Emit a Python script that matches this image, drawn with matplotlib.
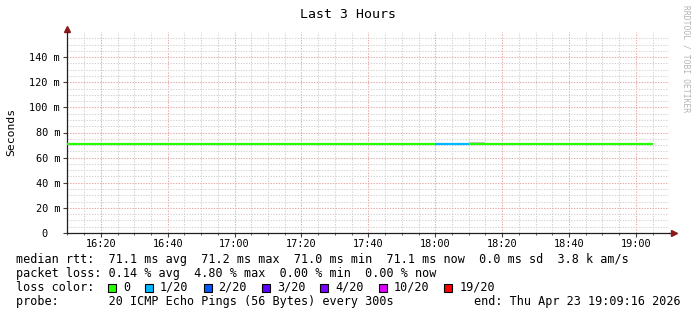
import matplotlib
matplotlib.use("Agg")
import matplotlib.pyplot as plt
from matplotlib.patches import Rectangle
from matplotlib.ticker import FixedLocator, MultipleLocator, FuncFormatter

# time axis: minutes after 16:00, window of the last 3 hours
x_start, x_end = 9.9, 189.9

# 5 minute steps: interval start, median rtt (ms), lost pings out of 20
step_start = [5, 10, 15, 20, 25, 30, 35, 40, 45, 50, 55, 60,
              65, 70, 75, 80, 85, 90, 95, 100, 105, 110, 115, 120,
              125, 130, 135, 140, 145, 150, 155, 160, 165, 170, 175, 180]
median_rtt = [71.1, 71.1, 71.1, 71.1, 71.1, 71.1, 71.1, 71.1, 71.1, 71.1, 71.1, 71.2,
              71.1, 71.1, 71.1, 71.1, 71.1, 71.1, 71.1, 71.1, 71.1, 71.1, 71.1, 71.1,
              71.1, 71.1, 71.1, 71.1, 71.0, 71.1, 71.1, 71.1, 71.1, 71.1, 71.1, 71.1]
lost = [0, 0, 0, 0, 0, 0, 0, 0, 0, 0, 0, 0,
        0, 0, 0, 0, 0, 0, 0, 0, 0, 0, 0, 1,
        1, 0, 0, 0, 0, 0, 0, 0, 0, 0, 0, 0]

# smoke (spread of the single pings) where it shows above the median line
smoke_start = [130]
smoke_lo = [71.0]
smoke_hi = [72.6]

y_labels = [0, 20, 40, 60, 80, 100, 120, 140]

loss_levels = [0, 1, 2, 3, 4, 10, 19]
loss_labels = ["0", "1/20", "2/20", "3/20", "4/20", "10/20", "19/20"]
loss_colors = ["#26ff00", "#00b8ff", "#0059ff", "#5e00ff", "#7e00ff", "#dd00ff", "#ff0000"]

stats_rtt = "median rtt:  71.1 ms avg  71.2 ms max  71.0 ms min  71.1 ms now  0.0 ms sd  3.8 k am/s"
stats_loss = "packet loss: 0.14 % avg  4.80 % max  0.00 % min  0.00 % now"
probe_text = "probe:       20 ICMP Echo Pings (56 Bytes) every 300s"
end_text = "end: Thu Apr 23 19:09:16 2026"

MONO = "DejaVu Sans Mono"
W, H = 697, 315


def loss_color(n):
    col = loss_colors[0]
    for lvl, c in zip(loss_levels, loss_colors):
        if n >= lvl:
            col = c
    return col


def fx(px):
    return px / W


def fy(py):
    return 1 - py / H


fig = plt.figure(figsize=(W / 100, H / 100), dpi=100)
fig.patch.set_facecolor("white")
ax = fig.add_axes([fx(67), fy(233), (669 - 67) / W, (233 - 32) / H])

for t, lo, hi in zip(smoke_start, smoke_lo, smoke_hi):
    ax.fill_between([t, t + 5], lo, hi, color="#c8c8c8", lw=0, zorder=2)

for t, m, n in zip(step_start, median_rtt, lost):
    ax.hlines(m, t, t + 5, colors=loss_color(n), lw=1.6, zorder=3)

ax.set_xlim(x_start, x_end)
ax.set_ylim(0, 160)

ax.xaxis.set_major_locator(MultipleLocator(20))
ax.xaxis.set_minor_locator(MultipleLocator(5))
ax.yaxis.set_major_locator(FixedLocator(y_labels))
ax.yaxis.set_minor_locator(FixedLocator([v + d for v in y_labels for d in (5, 10, 15)]))
ax.xaxis.set_major_formatter(FuncFormatter(lambda v, p: f"{16 + int(v) // 60}:{int(v) % 60:02d}"))
ax.yaxis.set_major_formatter(FuncFormatter(lambda v, p: "0  " if v == 0 else f"{v:.0f} m"))

ax.grid(which="minor", color="#d4d4d4", ls=(0, (1.3, 1.3)), lw=0.75, zorder=0)
ax.grid(which="major", color="#e8a8a8", ls=(0, (1.3, 1.3)), lw=0.75, zorder=1)
ax.set_axisbelow(True)

for s in ("top", "right"):
    ax.spines[s].set_visible(False)
for s in ("left", "bottom"):
    ax.spines[s].set_color("#202020")
    ax.spines[s].set_linewidth(0.9)
ax.tick_params(which="major", length=3, width=0.8, color="#404040", labelsize=7.4, pad=2)
ax.tick_params(which="minor", length=1.5, width=0.7, color="#606060")
ax.tick_params(axis="y", which="minor", length=0)
for lab in ax.get_xticklabels() + ax.get_yticklabels():
    lab.set_fontfamily(MONO)
ax.tick_params(axis="x", pad=1.5)

# rrdtool style axis arrows
ax.plot([0, 0], [1.0, 1.015], color="#202020", lw=0.9, transform=ax.transAxes, clip_on=False)
ax.plot([0], [1.015], marker="^", ms=5, color="#8b1a1a", transform=ax.transAxes, clip_on=False)
ax.plot([1.0, 1.008], [0, 0], color="#202020", lw=0.9, transform=ax.transAxes, clip_on=False)
ax.plot([1.008], [0], marker=">", ms=5, color="#8b1a1a", transform=ax.transAxes, clip_on=False)

fig.text(fx(348), fy(14), "Last 3 Hours", ha="center", va="center", fontsize=9.5, family=MONO)
fig.text(fx(11), fy(132), "Seconds", rotation=90, ha="center", va="center", fontsize=8.2, family=MONO)
fig.text(fx(686), fy(59), "RRDTOOL / TOBI OETIKER", rotation=270, ha="center", va="center",
         fontsize=5.8, family=MONO, color="#b4b4b4")

fig.text(fx(16), fy(259.5), stats_rtt, ha="left", va="center", fontsize=8.5, family=MONO)
fig.text(fx(16), fy(273.5), stats_loss, ha="left", va="center", fontsize=8.5, family=MONO)
fig.text(fx(16), fy(287.5), "loss color:", ha="left", va="center", fontsize=8.5, family=MONO)
fig.text(fx(16), fy(301), probe_text, ha="left", va="center", fontsize=8.5, family=MONO)
fig.text(fx(681), fy(301), end_text, ha="right", va="center", fontsize=8.5, family=MONO)

cx = 108
for lab, col in zip(loss_labels, loss_colors):
    fig.patches.append(Rectangle((fx(cx), fy(292)), 8 / W, 8 / H, transform=fig.transFigure,
                                 facecolor=col, edgecolor="black", lw=0.8))
    fig.text(fx(cx + 15), fy(287.5), lab, ha="left", va="center", fontsize=8.5, family=MONO)
    cx += 15 + len(lab) * 7.1 + 15

fig.savefig("out.png", dpi=100)
